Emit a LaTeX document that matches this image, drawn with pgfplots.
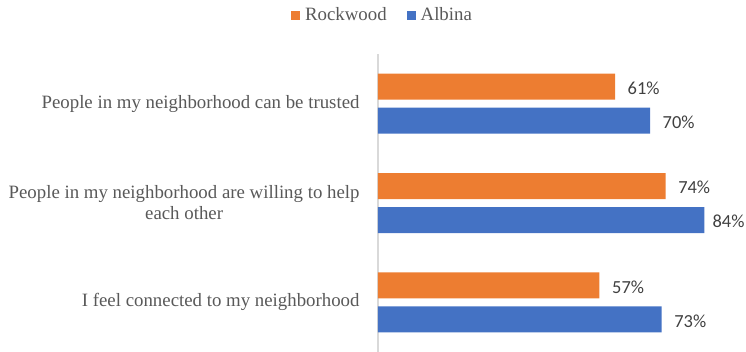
\documentclass[border=0pt]{standalone}
\usepackage{fontspec}
\setmainfont{Liberation Serif}
\newfontfamily\carlito{Carlito}
\usepackage{pgfplots}
\pgfplotsset{compat=1.18}
\definecolor{rock}{HTML}{ED7D31}
\definecolor{alb}{HTML}{4472C4}
\definecolor{lbl}{HTML}{595959}
\definecolor{val}{HTML}{404040}
\definecolor{axl}{HTML}{D9D9D9}
\begin{document}
\begin{tikzpicture}
\begin{axis}[
  scale only axis,
  width=349.74bp, height=298bp,
  xmin=0, xmax=90,
  ymin=-0.5, ymax=2.5,
  y dir=reverse,
  xbar, bar width=26bp,
  enlargelimits=false,
  hide x axis,
  axis y line*=left,
  y axis line style={draw=axl, line width=1.6bp},
  ytick={0,1,2},
  ytick style={draw=none},
  yticklabels={{People in my neighborhood can be trusted},{People in my neighborhood are willing to help\\each other},{I feel connected to my neighborhood}},
  yticklabel style={align=center, font=\fontsize{18.9}{21}\selectfont, text=lbl, inner sep=0pt, xshift=-14bp},
  clip=false,
  nodes near coords={\pgfmathfloattofixed{\pgfplotspointmeta}\ifdim\pgfmathresult pt>80pt\kern-4.5bp\fi\pgfmathprintnumber[assume math mode=true]{\pgfplotspointmeta}\%},
  point meta=x,
  nodes near coords style={font=\carlito\fontsize{18.5}{20}\selectfont, text=val, anchor=west, inner sep=0pt, xshift=12.5bp, yshift=-1.5bp},
  legend columns=2,
  legend style={at={(0,1)}, anchor=center, xshift=4.5bp, yshift=39bp, draw=none, fill=none,
    font=\fontsize{18.9}{21}\selectfont, text=lbl, inner sep=0pt, /tikz/column sep=0pt,
    /tikz/every odd column/.append style={column sep=3bp},
    /tikz/every even column/.append style={column sep=18bp}},
  legend cell align=left,
  legend image code/.code={\fill[#1] (0bp,-4.5bp) rectangle (9bp,4.5bp);},
]
\addplot[fill=rock, draw=none, bar shift=17bp] coordinates {(61,0) (74,1) (57,2)};
\addplot[fill=alb, draw=none, bar shift=-17bp] coordinates {(70,0) (84,1) (73,2)};
\legend{Rockwood,Albina}
\end{axis}
\pgfresetboundingbox
\path (current axis.south west) ++(-378bp,0) rectangle ++(746bp,352bp);
\end{tikzpicture}
\end{document}
